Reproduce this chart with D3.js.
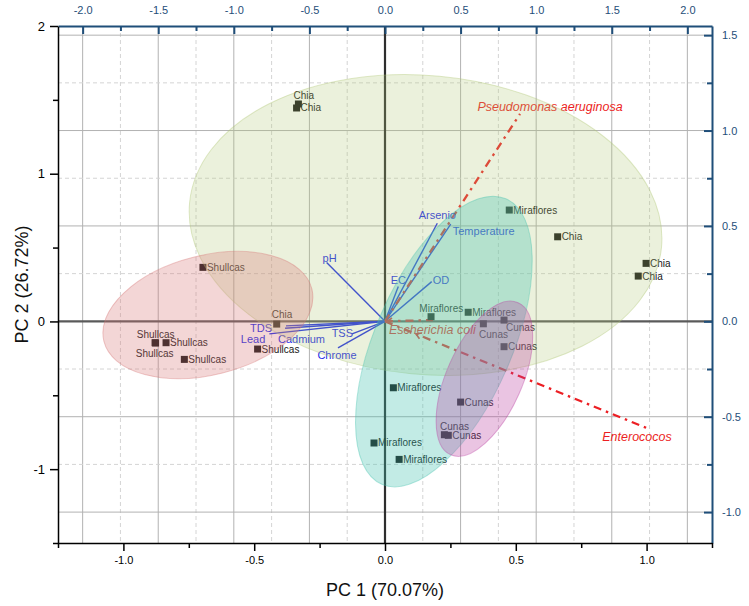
<!DOCTYPE html>
<html><head><meta charset="utf-8">
<script src="https://cdn.jsdelivr.net/npm/d3@7"></script>
<style>
body{margin:0;background:#fff}
svg{display:block;font-family:Arial,"Liberation Sans",sans-serif}
</style>
</head><body>
<svg id="chart" width="749" height="606"></svg>
<script>
// ---------------- DATA ----------------
const sites = ["Shullcas","Shullcas","Shullcas","Shullcas","Shullcas","Shullcas",
  "Chia","Chia","Chia","Chia","Chia","Chia",
  "Miraflores","Miraflores","Miraflores","Miraflores","Miraflores","Miraflores",
  "Cunas","Cunas","Cunas","Cunas","Cunas","Cunas"];
const pc1Scores = [-0.696,-0.879,-0.877,-0.837,-0.767,-0.487,
  -0.331,-0.338,0.660,0.998,0.968,-0.414,
  0.475,0.176,0.318,0.032,0.054,-0.042,
  0.376,0.455,0.455,0.289,0.227,0.242];
const pc2Scores = [0.366,-0.144,-0.146,-0.144,-0.257,-0.187,
  1.472,1.445,0.573,0.393,0.307,-0.018,
  0.754,0.032,0.062,-0.449,-0.934,-0.823,
  -0.016,0.009,-0.171,-0.546,-0.767,-0.771];

const variables = ["Arsenio","Temperature","EC","OD","pH","TDS","Cadmium","Lead","TSS","Chrome"];
const varLoad1 = [0.346,0.435,0.088,0.309,-0.386,-0.661,-0.655,-0.765,-0.218,-0.311];
const varLoad2 = [0.514,0.510,0.182,0.208,0.308,-0.036,-0.024,-0.066,-0.066,-0.139];

const bacteria = ["Pseudomonas aeruginosa","Enterococos","Escherichia coli"];
const bacLoad1 = [0.893,1.733,0.317];
const bacLoad2 = [1.087,-0.560,0.007];

const groups = ["Chia","Shullcas","Miraflores","Cunas"];
const ellCx = [0.155,-0.677,0.225,0.380];
const ellCy = [0.653,0.043,-0.136,-0.388];
const ellA = [0.906,0.410,0.595,0.318];   // semi-axis (PC1 units)
const ellB = [1.012,0.404,0.464,0.256];   // semi-axis (PC2 units)
const ellAngle = [5.4,-14.2,-66.5,-66.1];

const bottomTicks = [-1.0,-0.5,0.0,0.5,1.0];
const bottomMinor = [-1.25,-0.75,-0.25,0.25,0.75,1.25];
const leftTicks = [-1,0,1,2];
const leftMinor = [-1.5,-0.5,0.5,1.5];
const topTicks = [-2.0,-1.5,-1.0,-0.5,0.0,0.5,1.0,1.5,2.0];
const topMinor = [-1.75,-1.25,-0.75,-0.25,0.25,0.75,1.25,1.75];
const rightTicks = [-1.0,-0.5,0.0,0.5,1.0,1.5];
const rightMinor = [-0.75,-0.25,0.25,0.75,1.25];

// ---------------- LAYOUT / STYLE ----------------
const W = 749, H = 606;
const L = 58, R = 712, T = 26, B = 543;
const axisBlue = "#1f4e79";
const vecBlue = "#1c2be8";
const red = "#ec1f24";

// label offsets for score labels (dx, dy relative to marker centre, text-anchor start)
const scoreLabelOffset = [[4,3.5],[-18.3,-4.7],[-19.8,14],[4,3.5],[4,3.5],[4,3.5],
  [-5,-4.5],[4,3.5],[4,3.5],[4,3.5],[4,3.5],[-5,-6],
  [4,3.5],[-11.7,-4.5],[4,3.5],[4,3.5],[4,3.5],[4,3.5],
  [-4.3,14],[2,11],[4,3.5],[4,3.5],[-4.3,-5],[4,3.5]];
const varLabelLayout = [["middle",0,-4],["start",2,11],["middle",0,-3],["start",1,2],["middle",3,-1],
  ["end",-13,3.5],["start",-8,17],["end",-4,9.5],["end",1,3],["middle",-1,11]];
const bacLabelLayout = [["middle",30,-3],["middle",-10,13],["start",-44,14]];
const ellFill = {Chia:"rgb(178,200,120)",Shullcas:"rgb(215,120,120)",Miraflores:"rgb(70,195,175)",Cunas:"rgb(185,60,160)"};
const ellOpacity = {Chia:0.26,Shullcas:0.3,Miraflores:0.33,Cunas:0.3};

// ---------------- SCALES ----------------
const x = d3.scaleLinear().domain([-1.25,1.25]).range([L,R]);
const y = d3.scaleLinear().domain([-1.5,2]).range([B,T]);
const xt = d3.scaleLinear().domain([-2.163,2.163]).range([L,R]);
const yr = d3.scaleLinear().domain([-1.162,1.548]).range([B,T]);

const svg = d3.select("#chart");
svg.append("rect").attr("width",W).attr("height",H).attr("fill","#fff");
svg.append("defs").append("clipPath").attr("id","clip")
  .append("rect").attr("x",L).attr("y",T).attr("width",R-L).attr("height",B-T);

const plot = svg.append("g").attr("clip-path","url(#clip)");

// grid (from top / right axes)
const isMajor = d => Math.abs(d*2 - Math.round(d*2)) < 1e-6;
const gx = topTicks.concat(topMinor).filter(d => d !== 0);
plot.selectAll("line.gv").data(gx).join("line")
  .attr("x1",d=>xt(d)).attr("x2",d=>xt(d)).attr("y1",T).attr("y2",B)
  .attr("stroke",d=>isMajor(d)?"#b2b2b2":"#d4d4d4")
  .attr("stroke-width",1)
  .attr("stroke-dasharray",d=>isMajor(d)?null:"4,3");
const gy = rightTicks.concat(rightMinor).filter(d => d !== 0);
plot.selectAll("line.gh").data(gy).join("line")
  .attr("y1",d=>yr(d)).attr("y2",d=>yr(d)).attr("x1",L).attr("x2",R)
  .attr("stroke",d=>isMajor(d)?"#b2b2b2":"#d4d4d4")
  .attr("stroke-width",1)
  .attr("stroke-dasharray",d=>isMajor(d)?null:"4,3");

// zero lines
plot.append("line").attr("x1",L).attr("x2",R).attr("y1",y(0)).attr("y2",y(0))
  .attr("stroke","#5a5a5a").attr("stroke-width",2.2);
plot.append("line").attr("x1",x(0)).attr("x2",x(0)).attr("y1",T).attr("y2",B)
  .attr("stroke","#2e2e2e").attr("stroke-width",2.2);

// variable loading vectors
const ox = xt(0), oy = yr(0);
plot.selectAll("line.vec").data(variables).join("line")
  .attr("x1",ox).attr("y1",oy)
  .attr("x2",(d,i)=>xt(varLoad1[i])).attr("y2",(d,i)=>yr(varLoad2[i]))
  .attr("stroke",vecBlue).attr("stroke-width",1.4);

// bacteria vectors
plot.selectAll("line.bac").data(bacteria).join("line")
  .attr("x1",ox).attr("y1",oy)
  .attr("x2",(d,i)=>xt(bacLoad1[i])).attr("y2",(d,i)=>yr(bacLoad2[i]))
  .attr("stroke",red).attr("stroke-width",2.3)
  .attr("stroke-dasharray","8,5,2.5,5");
function chevron(px,py,ang){
  const s=6, a1=ang+0.55, a2=ang-0.55;
  plot.append("path")
    .attr("d",`M${px+s*Math.cos(a1)},${py+s*Math.sin(a1)}L${px},${py}L${px+s*Math.cos(a2)},${py+s*Math.sin(a2)}`)
    .attr("fill","none").attr("stroke",red).attr("stroke-width",1.6);
}
{
  const ex = xt(bacLoad1[2]), ey = yr(bacLoad2[2]);
  chevron(ox+2,oy,Math.atan2(ey-oy,ex-ox));
  const nx = xt(bacLoad1[1]), ny = yr(bacLoad2[1]);
  const f = 0.118;
  chevron(ox+(nx-ox)*f, oy+(ny-oy)*f, Math.atan2(ny-oy,nx-ox));
}

// scores
plot.selectAll("rect.pt").data(sites).join("rect")
  .attr("x",(d,i)=>x(pc1Scores[i])-3.5).attr("y",(d,i)=>y(pc2Scores[i])-3.5)
  .attr("width",7).attr("height",7).attr("fill","#141414");
plot.selectAll("text.pt").data(sites).join("text")
  .attr("x",(d,i)=>x(pc1Scores[i])+scoreLabelOffset[i][0])
  .attr("y",(d,i)=>y(pc2Scores[i])+scoreLabelOffset[i][1])
  .attr("font-size",10).attr("fill","#161616").text(d=>d);

// variable labels
plot.selectAll("text.vec").data(variables).join("text")
  .attr("x",(d,i)=>xt(varLoad1[i])+varLabelLayout[i][1])
  .attr("y",(d,i)=>yr(varLoad2[i])+varLabelLayout[i][2])
  .attr("text-anchor",(d,i)=>varLabelLayout[i][0])
  .attr("font-size",11).attr("fill",vecBlue).text(d=>d);
plot.selectAll("text.bac").data(bacteria).join("text")
  .attr("x",(d,i)=>xt(bacLoad1[i])+bacLabelLayout[i][1])
  .attr("y",(d,i)=>yr(bacLoad2[i])+bacLabelLayout[i][2])
  .attr("text-anchor",(d,i)=>bacLabelLayout[i][0])
  .attr("font-size",12.5).attr("font-style","italic").attr("fill",red).text(d=>d);

// confidence ellipses (drawn on top, translucent)
const kx = x(1)-x(0), ky = y(0)-y(1);
plot.selectAll("ellipse.grp").data(groups).join("ellipse")
  .attr("transform",(d,i)=>`translate(${x(ellCx[i])},${y(ellCy[i])}) rotate(${ellAngle[i]})`)
  .attr("rx",(d,i)=>ellA[i]*kx).attr("ry",(d,i)=>ellB[i]*ky)
  .attr("fill",d=>ellFill[d]).attr("fill-opacity",d=>ellOpacity[d])
  .attr("stroke",d=>ellFill[d]).attr("stroke-opacity",0.4).attr("stroke-width",1);

// ---------------- AXES ----------------
const fmt1 = d => d.toFixed(1);
function styleAxis(g,color,width,fontSize){
  g.select(".domain").attr("stroke",color).attr("stroke-width",width);
  g.selectAll(".tick line").attr("stroke",color).attr("stroke-width",width);
  g.selectAll(".tick text").attr("fill",color).attr("font-size",fontSize)
    .attr("font-family","Arial, 'Liberation Sans', sans-serif");
}
const gTopMin = svg.append("g").attr("transform",`translate(0,${T})`)
  .call(d3.axisTop(xt).tickValues(topMinor).tickSize(-5).tickSizeOuter(0).tickFormat(""));
gTopMin.select(".domain").remove();
styleAxis(gTopMin,axisBlue,2,11);
const gTop = svg.append("g").attr("transform",`translate(0,${T})`)
  .call(d3.axisTop(xt).tickValues(topTicks).tickSize(-8).tickSizeOuter(0).tickPadding(12).tickFormat(fmt1));
styleAxis(gTop,axisBlue,2,11);
const gRMin = svg.append("g").attr("transform",`translate(${R},0)`)
  .call(d3.axisRight(yr).tickValues(rightMinor).tickSize(-5).tickSizeOuter(0).tickFormat(""));
gRMin.select(".domain").remove();
styleAxis(gRMin,axisBlue,2,11);
const gR = svg.append("g").attr("transform",`translate(${R},0)`)
  .call(d3.axisRight(yr).tickValues(rightTicks).tickSize(-8).tickSizeOuter(0).tickPadding(10).tickFormat(fmt1));
styleAxis(gR,axisBlue,2,11);
const gLMin = svg.append("g").attr("transform",`translate(${L},0)`)
  .call(d3.axisLeft(y).tickValues(leftMinor).tickSize(5).tickSizeOuter(0).tickFormat(""));
gLMin.select(".domain").remove();
styleAxis(gLMin,"#000",1.5,13);
const gL = svg.append("g").attr("transform",`translate(${L},0)`)
  .call(d3.axisLeft(y).tickValues(leftTicks).tickSize(8).tickSizeOuter(0).tickPadding(5).tickFormat(d=>String(d)));
styleAxis(gL,"#000",1.5,13);
const gBMin = svg.append("g").attr("transform",`translate(0,${B})`)
  .call(d3.axisBottom(x).tickValues(bottomMinor).tickSize(5).tickSizeOuter(0).tickFormat(""));
gBMin.select(".domain").remove();
styleAxis(gBMin,"#000",1.5,11);
const gB = svg.append("g").attr("transform",`translate(0,${B})`)
  .call(d3.axisBottom(x).tickValues(bottomTicks).tickSize(8).tickSizeOuter(0).tickPadding(5).tickFormat(fmt1));
styleAxis(gB,"#000",1.5,11);

// axis titles
svg.append("text").attr("x",(L+R)/2).attr("y",596).attr("text-anchor","middle")
  .attr("font-size",18).attr("fill","#111").text("PC 1 (70.07%)");
svg.append("text").attr("transform",`translate(28,${(T+B)/2}) rotate(-90)`)
  .attr("text-anchor","middle").attr("font-size",18).attr("fill","#111").text("PC 2 (26.72%)");
</script>
</body></html>
